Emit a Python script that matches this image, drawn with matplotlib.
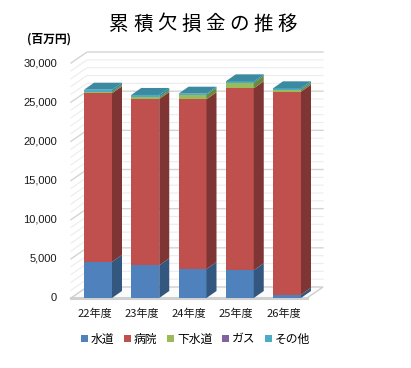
import matplotlib
matplotlib.use("Agg")
import matplotlib.pyplot as plt
from matplotlib.patches import Polygon

plt.rcParams['font.family'] = ['Noto Sans CJK JP', 'DejaVu Sans']

# データ（百万円）
years = ['22年度', '23年度', '24年度', '25年度', '26年度']
series = ['水道', '病院', '下水道', 'ガス', 'その他']
suido = [4600, 4170, 3700, 3540, 430]
byoin = [21530, 21230, 21670, 23230, 25910]
gesui = [210, 260, 580, 680, 250]
gas = [0, 0, 0, 0, 0]
sonota = [250, 260, 130, 210, 180]
yticks = list(range(0, 30001, 5000))

front = ['#4F81BD', '#C0504D', '#9BBB59', '#8064A2', '#4BACC6']
side = ['#34577F', '#7E3533', '#6B8A3B', '#5A4678', '#31859C']
top_col = '#3B8AA0'

# ピクセル換算（擬似3D用）
PX_X = 47.25          # 1カテゴリあたりのpx
PX_Y = 7.833 / 1000   # 値1あたりのpx
def dx(p): return p / PX_X
def dy(p): return p / PX_Y

fig = plt.figure(figsize=(4.11, 3.68), dpi=100)
ax = fig.add_axes([0, 0, 1, 1])
ax.axis('off')
ax.set_xlim(-98 / PX_X, (411 - 98) / PX_X)
ax.set_ylim(-70 / PX_Y, 298 / PX_Y)

# 壁と目盛線
xl = dx(71 - 98)
xr = dx(323 - 98)
wdx, wdy = dx(16), dy(11)
for v in range(1000, 30001, 1000):
    major = v % 5000 == 0
    ax.plot([xl, xl + wdx, xr], [v, v + wdy, v + wdy],
            color='#d4d4d4' if major else '#ececec',
            lw=1.0 if major else 0.8, zorder=0.5)

# 床
floor = Polygon([(xl, 0), (xl + wdx, wdy), (xr, wdy), (xr - wdx, 0)],
                closed=True, facecolor='#fbfbfb', edgecolor='#cfcfcf', lw=1.0, zorder=0.8)
ax.add_patch(floor)
ax.plot([xl, xr - wdx], [0, 0], color='#d0d0d0', lw=2.2, zorder=0.9)

# 積み上げ棒
w = dx(28)
bdx, bdy = dx(10), dy(7)
x = list(range(len(years)))
data = [suido, byoin, gesui, gas, sonota]
bottom = [0] * len(years)
handles = []
for k, vals in enumerate(data):
    bars = ax.bar(x, vals, bottom=bottom, width=w, color=front[k], lw=0, zorder=3)
    handles.append(bars)
    for i in x:
        if vals[i] <= 0:
            continue
        y0, y1 = bottom[i], bottom[i] + vals[i]
        xr_f = i + w / 2
        ax.add_patch(Polygon([(xr_f, y0), (xr_f + bdx, y0 + bdy),
                              (xr_f + bdx, y1 + bdy), (xr_f, y1)],
                             closed=True, facecolor=side[k], lw=0, zorder=3))
    bottom = [b + v for b, v in zip(bottom, vals)]

for i in x:
    t = bottom[i]
    ax.add_patch(Polygon([(i - w / 2, t), (i + w / 2, t),
                          (i + w / 2 + bdx, t + bdy), (i - w / 2 + bdx, t + bdy)],
                         closed=True, facecolor=top_col, lw=0, zorder=3))

# 軸ラベル
for v in yticks:
    ax.text(dx(57 - 98), v, f"{v:,}", ha='right', va='center',
            fontsize=8, family='Liberation Sans', color='#1a1a1a')
for i, lab in enumerate(years):
    ax.text(i - dx(3.5), -dy(16), lab, ha='center', va='center', fontsize=8, color='#1a1a1a')

ax.text(dx(49 - 98), dy(298 - 39), '(百万円)', ha='center', va='center',
        fontsize=8.5, fontweight='bold')

# タイトル（字間を広げる）
title = '累積欠損金の推移'
for k, ch in enumerate(title):
    fig.text((119 + 24.1 * k) / 411, 1 - 24 / 368, ch, ha='center', va='center', fontsize=14)

fig.legend(handles, series, ncol=5, loc='center',
           bbox_to_anchor=(195.5 / 411, 1 - 339 / 368), frameon=False,
           fontsize=8.5, handlelength=0.6, handleheight=0.6,
           handletextpad=0.25, columnspacing=0.8)

fig.savefig('out.png', dpi=100)
